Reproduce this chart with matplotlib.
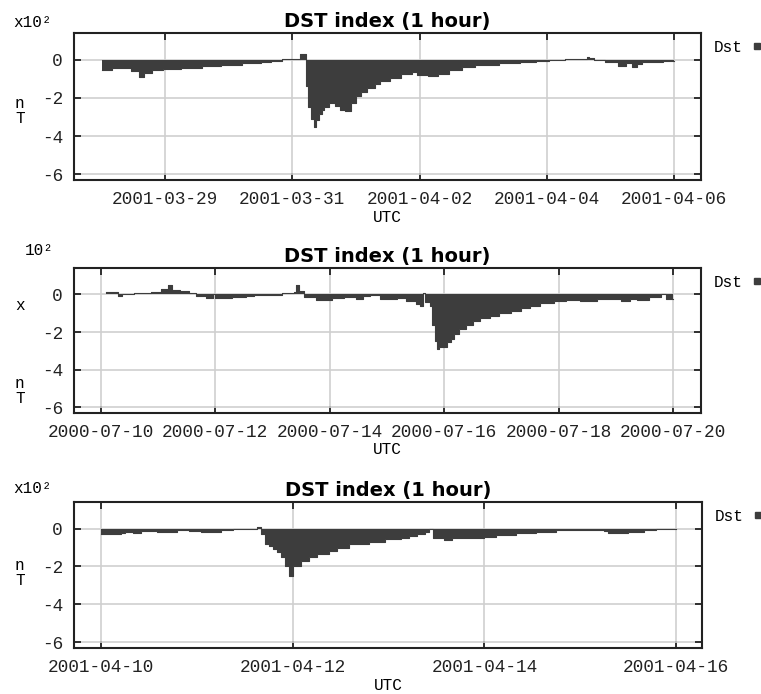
import numpy as np
import matplotlib
matplotlib.use("Agg")
import matplotlib.pyplot as plt
from matplotlib.lines import Line2D

# Dst values (nT), hourly steps: value holds from the given hour until the next one
p1_start = "2001-03-28T00"
p1_hours = [0, 4, 11, 14, 16, 19, 23, 30, 38, 45, 53, 60, 64, 68, 72, 75, 77, 78, 79, 80,
            81, 82, 83, 84, 86, 88, 90, 92, 94, 96, 98, 100, 103, 105, 109, 113, 117, 119, 123, 127,
            131, 136, 141, 150, 158, 164, 169, 175, 178, 183, 184, 186, 190, 195, 198, 200, 202, 204, 212]
p1_dst = [-52, -44, -60, -91, -70, -56, -49, -44, -35, -28, -17, -14, -5, 3, 2, 30, -140, -250, -310, -352,
          -315, -285, -265, -250, -225, -240, -262, -266, -225, -190, -171, -150, -128, -111, -94, -77, -62, -80, -84, -74,
          -53, -39, -26, -17, -12, -8, -2, 5, 5, 15, 8, -3, -12, -32, -17, -40, -24, -12, -8]
p1_end = 216
p1_ticks = ["2001-03-29", "2001-03-31", "2001-04-02", "2001-04-04", "2001-04-06"]

p2_start = "2000-07-10T00"
p2_hours = [2, 7, 9, 14, 21, 25, 28, 30, 33, 37, 40, 44, 47, 48, 55, 61, 64, 76, 81, 82,
            83, 85, 90, 97, 102, 107, 110, 113, 117, 124, 128, 132, 134, 135, 136, 138, 139, 140, 141, 142,
            145, 147, 148, 150, 153, 156, 159, 163, 167, 172, 176, 180, 184, 190, 195, 201, 208, 214, 218, 222,
            225, 230, 235, 237]
p2_dst = [12, -8, 2, 5, 15, 26, 52, 23, 17, 9, -8, -17, 0, -17, -12, -8, -2, 5, 15, 52,
          17, -14, -30, -17, -12, -22, -8, -3, -22, -17, -35, -52, -61, 8, -43, -61, -165, -250, -290, -282,
          -252, -235, -209, -183, -165, -139, -125, -113, -101, -87, -73, -61, -47, -35, -30, -35, -26, -22, -35, -22,
          -30, -12, 0, -26]
p2_end = 240
p2_ticks = ["2000-07-10", "2000-07-12", "2000-07-14", "2000-07-16", "2000-07-18", "2000-07-20"]

p3_start = "2001-04-10T00"
p3_hours = [0, 5, 6, 8, 10, 14, 19, 22, 25, 30, 33, 35, 38, 39, 40, 41, 42, 43, 44, 45,
            46, 47, 48, 50, 52, 54, 57, 59, 62, 67, 71, 75, 77, 79, 81, 82, 83, 84, 86, 88,
            96, 99, 104, 109, 114, 126, 127, 132, 136, 139]
p3_dst = [-30, -25, -18, -21, -12, -16, -9, -12, -16, -9, -5, -3, 0, 10, -31, -83, -91, -109, -126, -152,
          -195, -250, -195, -169, -152, -134, -117, -103, -83, -69, -57, -48, -40, -30, -16, 0, -51, -48, -62, -51,
          -44, -34, -25, -16, -9, -12, -21, -16, -7, -3]
p3_end = 144
p3_ticks = ["2001-04-10", "2001-04-12", "2001-04-14", "2001-04-16"]

FILL = "#3d3d3d"
MONO = "Liberation Mono"
W, H = 761, 694


def hours_to_time(start, hours):
    h = np.asarray(hours, dtype=float)
    return np.datetime64(start) + (h * 60).astype("timedelta64[m]")


def fx(px):
    return px / W


def fy(py):
    return 1 - py / H


def dst_panel(fig, rect, start, hours, dst, end, ticks, xpad):
    ax = fig.add_axes(rect)
    t = hours_to_time(start, list(hours) + [end])
    v = np.array(list(dst) + [dst[-1]])
    ax.fill_between(t, v, 0, step="post", color=FILL, lw=0)
    ax.step(t, v, where="post", color=FILL, lw=0.8)

    ax.set_xlim(hours_to_time(start, [xpad[0], xpad[1]]))
    ax.set_ylim(-630, 140)
    ax.set_yticks([-600, -400, -200, 0])
    ax.set_yticklabels(["-6", "-4", "-2", "0"])
    ax.set_xticks(np.array(ticks, dtype="datetime64[m]"))
    ax.set_xticklabels(ticks)

    ax.set_axisbelow(True)
    ax.grid(color="#cfcfcf", lw=1.2)
    ax.tick_params(direction="in", length=5, width=1.3, top=True, right=True,
                   labelsize=12.8, pad=8, colors="#222222")
    for lab in ax.get_xticklabels() + ax.get_yticklabels():
        lab.set_family(MONO)
    for s in ax.spines.values():
        s.set_linewidth(1.5)
        s.set_color("#222222")

    ax.set_title("DST index (1 hour)", fontweight="bold", fontsize=14, pad=4)
    ax.set_xlabel("UTC", family=MONO, fontsize=11.5, labelpad=1)

    ax.legend(handles=[Line2D([], [], marker="s", ls="", color=FILL, ms=5, label="Dst")],
              markerfirst=False, frameon=False, loc="upper left",
              bbox_to_anchor=(1.02, 0.955), borderaxespad=0, borderpad=0,
              handlelength=0.8, handletextpad=0.5, prop={"family": MONO, "size": 11.5})
    return ax


fig = plt.figure(figsize=(W / 100, H / 100), dpi=100)

dst_panel(fig, [fx(74), fy(180), fx(701) - fx(74), fy(33) - fy(180)],
          p1_start, p1_hours, p1_dst, p1_end, p1_ticks, (-10.4, 226.2))
dst_panel(fig, [fx(74), fy(413), fx(701) - fx(74), fy(268) - fy(413)],
          p2_start, p2_hours, p2_dst, p2_end, p2_ticks, (-11.3, 251.7))
dst_panel(fig, [fx(74), fy(648), fx(702) - fx(74), fy(502) - fy(648)],
          p3_start, p3_hours, p3_dst, p3_end, p3_ticks, (-6.8, 150.5))

# unit annotations on the left
fig.text(fx(13), fy(27), "x10²", family=MONO, fontsize=11.5, va="baseline")
fig.text(fx(15), fy(111), "n\nT", family=MONO, fontsize=11.5, va="center", linespacing=1.0)

fig.text(fx(25), fy(255), "10²", family=MONO, fontsize=11.5, va="baseline")
fig.text(fx(15), fy(305), "x", family=MONO, fontsize=11.5, va="center")
fig.text(fx(15), fy(391), "n\nT", family=MONO, fontsize=11.5, va="center", linespacing=1.0)

fig.text(fx(13), fy(493), "x10²", family=MONO, fontsize=11.5, va="baseline")
fig.text(fx(15), fy(573), "n\nT", family=MONO, fontsize=11.5, va="center", linespacing=1.0)

fig.savefig("out.png", dpi=100)
